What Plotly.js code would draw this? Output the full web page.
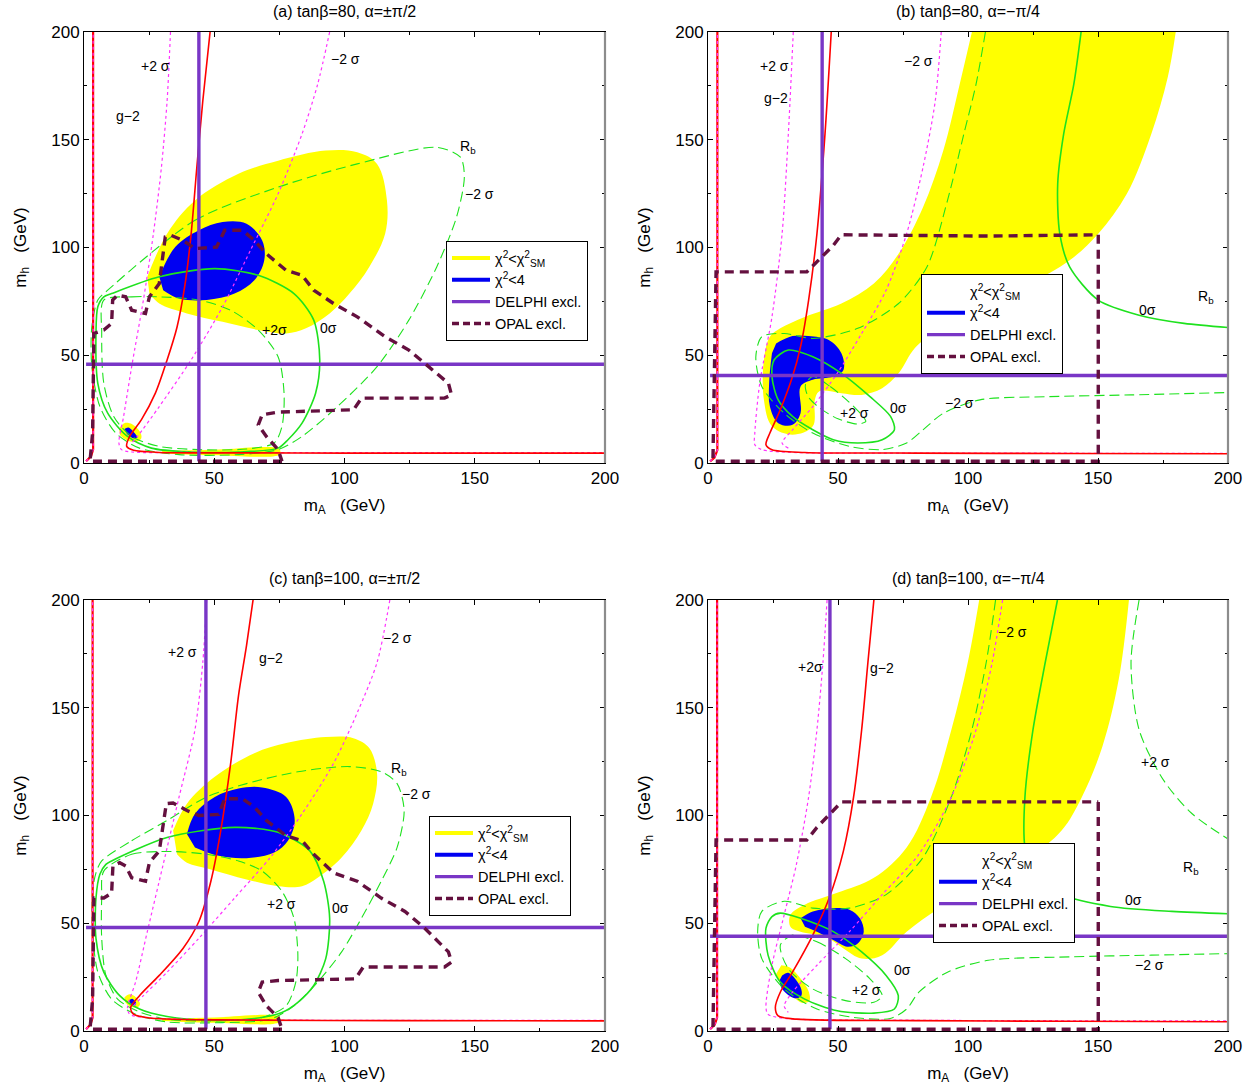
<!DOCTYPE html>
<html>
<head>
<meta charset="utf-8">
<script src="https://cdn.plot.ly/plotly-3.0.1.min.js"></script>
<style>html,body{margin:0;padding:0;background:#fff;}#chart{width:1260px;height:1090px;}</style>
</head>
<body>
<div id="chart"></div>
<script>
// ---------------- Panel (a): tanβ=80, α=±π/2 ----------------
const A_yellow_x = [24.3, 31.9, 42.6, 59.3, 74.5, 92.8, 104.9, 112.5, 116.3, 115.6, 109.5, 101.9, 94.3, 85.2, 77.6, 66.9, 53.2, 39.5, 28.9, 25.1];
const A_yellow_y = [86.4, 106.4, 121.8, 134.2, 140.3, 145, 144.2, 138.8, 121.8, 106.4, 91, 78.6, 69.4, 62.5, 60.1, 61.7, 65.5, 69.4, 74, 78.6];
const A_ysmall_x = [13.5, 15.5, 18.5, 21.5, 22, 20, 16.5, 13.8];
const A_ysmall_y = [16, 18.5, 18, 14.5, 11.5, 9.8, 10.5, 13];
const A_ystrip_x = [30, 50, 75, 75, 50, 30];
const A_ystrip_y = [5.6, 6.2, 6.5, 4, 3.6, 4.4];
const A_blue_x = [28.9, 35, 44.1, 53.2, 62.4, 68.4, 69.2, 65.4, 57.8, 47.1, 36.5, 30.4];
const A_blue_y = [86.4, 100.2, 108, 111.8, 111, 103.3, 94.1, 84.8, 78.6, 75.6, 76.3, 80.2];
const A_bsmall_x = [15.5, 17, 19.5, 20.5, 19, 16.5];
const A_bsmall_y = [15.8, 16.5, 13.8, 11.8, 11.5, 13.5];
const A_g2_x = [48.4, 45.6, 43.3, 41.1, 38.8, 35.7, 31.9, 27.4, 22, 17.5, 16.4, 19, 28.9, 60, 100, 150, 200];
const A_g2_y = [200, 168, 137, 106, 83, 63, 47.8, 32.4, 20, 12.3, 7.7, 5.9, 4.9, 4.7, 4.6, 4.6, 4.6];
const A_wall_x = [0.8, 2.7, 3.5, 3.5];
const A_wall_y = [0.8, 3.1, 6.2, 200];
const A_p2_x = [33.2, 31.9, 29.7, 26.6, 22.8, 18.3, 15.2, 13.4, 14.4, 18.3, 40, 100, 200];
const A_p2_y = [200, 168, 137, 106, 75.6, 44.7, 21.6, 9.3, 6.2, 5.1, 4.9, 4.8, 4.8];
const A_m2_x = [94.3, 89.7, 83.7, 74.5, 63.9, 53.2, 41.1, 28.9, 20.5, 18.3];
const A_m2_y = [200, 175.8, 152.7, 124.9, 98.7, 72.5, 47.8, 26.2, 12.3, 9.3];
const A_rb0_x = [10.6, 28.9, 50.2, 66.9, 80.6, 88.2, 90.5, 88.9, 83.7, 78.3, 74.5, 59.3, 41, 25.9, 16.7, 9.1, 5.3, 4.6, 5.3, 7.6, 10.6];
const A_rb0_y = [78.6, 86.4, 90.2, 87.1, 78.6, 66.3, 47.8, 32.4, 18.5, 10.8, 6.9, 5.1, 5.1, 6.9, 12.3, 23.1, 37, 60.1, 72.5, 77.1, 78.6];
const A_rbp2_x = [7.6, 18.3, 28.9, 44.1, 56.3, 66.9, 74.5, 76.8, 76, 73, 62.4, 44.1, 28.9, 18.3, 11.4, 7.6, 6.8, 7.6];
const A_rbp2_y = [75.6, 77.1, 77.1, 75.6, 70.9, 61.7, 49.3, 32.4, 17, 9.3, 6.5, 6.2, 7.7, 12.3, 21.6, 37, 60.1, 75.6];
const A_rbm2_x = [9.1, 42.6, 74.5, 104.9, 135.4, 144.5, 146, 143, 135.4, 124.7, 112.5, 97.3, 83.7, 74.5, 59.3, 36.5, 21.3, 12.2, 6.1, 3, 3, 5.3, 9.1];
const A_rbm2_y = [80.2, 112.6, 128, 138.8, 146.5, 141.9, 132.6, 114.1, 91, 66.3, 44.7, 26.2, 12.3, 6.2, 3.9, 3.9, 6.9, 13.9, 26.2, 44.7, 63.2, 75.6, 80.2];
const A_opal_x = [76, 2.3, 3.3, 3.8, 7.6, 10.6, 11, 12.9, 16, 18.3, 23.6, 25.1, 28.9, 31.2, 33.5, 38, 42.6, 50.9, 54, 60.8, 65.4, 70, 77.6, 83.7, 88.2, 95.8, 104.9, 115.6, 124.7, 132.3, 139.9, 141.1, 138.4, 106.5, 103.5, 74.5, 68.4, 66.9, 70, 74.5, 76];
const A_opal_y = [0.8, 0.8, 13.9, 60.1, 61.7, 64.8, 75.6, 77.9, 77.1, 70.9, 69.4, 77.1, 83.3, 104.9, 105.6, 103.3, 99.5, 100.2, 108, 108, 103.3, 97.1, 89.4, 87.1, 80.2, 74, 67.8, 58.6, 52.4, 44.7, 37, 31.6, 30.1, 30.1, 24.7, 23.6, 22.4, 17.7, 12.3, 6.2, 0.8];
const A_delphi = [44.1, 45.8];
const A_lab_t = ['+2 σ', '−2 σ', 'g−2', 'R<sub>b</sub>', '−2 σ', '+2σ', '0σ'];
const A_lab_x = [27.4, 100.4, 16.7, 147.5, 152, 73, 94];
const A_lab_y = [184.2, 187.4, 161.1, 146.5, 124.9, 61.7, 62.5];

// ---------------- Panel (b): tanβ=80, α=−π/4 ----------------
const B_yellow_x = [101.5, 96.8, 90.5, 82.7, 73.3, 63.8, 51.3, 37.2, 27.8, 23.8, 21.5, 21.5, 24.6, 32.5, 40.3, 41.1, 42.7, 51.3, 59.1, 67, 73.3, 79.5, 88.9, 107.8, 123.5, 139.1, 150.1, 161.1, 170.5, 176.8, 179.9];
const B_yellow_y = [200, 175.8, 145, 118.7, 97.1, 83.3, 74, 67.8, 62.5, 58.6, 47.8, 29.3, 17, 13.1, 17, 29.3, 33.2, 32.4, 31.6, 34.7, 41.6, 53.2, 62.5, 75.6, 83.3, 94.1, 106.4, 124.9, 152.7, 178.9, 200];
const B_blue_x = [26.2, 32.5, 38.7, 46.6, 51.3, 52.1, 48.2, 40.3, 35.6, 35.6, 32.5, 27, 23.8, 23.5, 24.6];
const B_blue_y = [55.5, 58.9, 58.9, 57, 50.9, 43.2, 40.1, 38.6, 35.5, 23.1, 17.7, 18.5, 26.2, 37, 50.9];
const B_g2_x = [47.4, 45, 41.9, 38.7, 35.6, 32.5, 27.8, 23.8, 22.3, 24.6, 37.2, 80, 140, 200];
const B_g2_y = [200, 152.7, 106.4, 75.6, 54, 40.1, 24.7, 13.9, 8.5, 6.2, 4.9, 4.6, 4.4, 4.3];
const B_wall_x = [0.8, 2.5, 3.6, 3.6];
const B_wall_y = [0.8, 2.5, 6, 200];
const B_p2_x = [32.8, 30.9, 28.5, 24.6, 19.9, 18, 18, 20.7, 32.5, 100, 200];
const B_p2_y = [200, 152.7, 106.4, 67.8, 37, 13.9, 8.5, 6.2, 4.9, 4.6, 4.5];
const B_m2_x = [89.7, 87.4, 82.7, 76.4, 68.5, 59.1, 49.7, 40.3, 32.5, 28.5, 30.9];
const B_m2_y = [200, 168, 137.2, 106.4, 80.2, 60.1, 41.6, 26.2, 15.4, 9.3, 6.9];
const B_rb0a_x = [143.5, 140.7, 136.8, 134.5, 135.3, 139.1, 150.1, 165.8, 183.1, 200];
const B_rb0a_y = [200, 175.8, 152.7, 129.5, 106.4, 91, 75.6, 68.6, 64.8, 62.9];
const B_rb0b_x = [30.9, 40.3, 51.3, 62.3, 70.2, 71.7, 67, 57.6, 48.2, 40.3, 32.5, 27, 24.6, 25.4, 30.9];
const B_rb0b_y = [52.4, 49.3, 41.6, 30.8, 21.6, 15.4, 10.8, 9.3, 10.8, 15.4, 21.6, 29.3, 40.1, 47.8, 52.4];
const B_rbm2_x = [106.7, 103.1, 98.4, 92.1, 84.2, 73.3, 57.6, 40.3, 29.3, 20.7, 18.4, 20.7, 29.3, 40.3, 54.4, 67, 76.4, 82.7, 90.5, 104.6, 131.3, 162.7, 200];
const B_rbm2_y = [200, 175.8, 152.7, 121.8, 91, 74, 62.5, 57.8, 60.1, 58.6, 49.3, 35.5, 23.1, 13.9, 7.7, 6.2, 9.3, 15.4, 23.1, 29.3, 30.8, 31.6, 32.7];
const B_rbp2_x = [40.3, 47, 53.3, 58.5, 60.7, 57.6, 50, 43, 38.5, 37.5, 40.3];
const B_rbp2_y = [40.1, 35.5, 29.3, 23.1, 19.3, 18.1, 20.5, 25.5, 30.8, 36.5, 40.1];
const B_opal_x = [150.1, 150.1, 1.9, 3.1, 38, 41.9, 48.2, 51.3, 107.8, 150.1];
const B_opal_y = [105.9, 0.8, 0.8, 88.7, 88.7, 93.3, 101, 105.9, 105.3, 105.9];
const B_delphi = [43.9, 40.6];
const B_lab_t = ['+2 σ', 'g−2', '−2 σ', 'R<sub>b</sub>', '0σ', '+2 σ', '0σ', '−2 σ'];
const B_lab_x = [25.4, 26.2, 81.1, 191.7, 169, 56.3, 73.3, 96.8];
const B_lab_y = [184.3, 169.6, 186.6, 77.1, 70.9, 23.1, 25.4, 27.8];

// ---------------- Panel (c): tanβ=100, α=±π/2 ----------------
const C_yellow_x = [34.2, 39.5, 50.2, 65.4, 77.6, 92.8, 103.4, 109.5, 112.5, 111, 106.5, 98.9, 89.7, 83.7, 74.5, 62.4, 48.7, 39.5, 35.7];
const C_yellow_y = [93, 105.5, 118, 128.9, 133.6, 136.4, 135.9, 131.3, 119.5, 105.5, 93, 80.5, 71.1, 67.2, 67.2, 70.3, 75, 78.1, 82];
const C_ysmall_x = [15.5, 17.5, 20, 21.5, 20.5, 17.5, 15.8];
const C_ysmall_y = [15.5, 17, 15.5, 12.5, 11, 11.5, 13.5];
const C_ystrip_x = [30, 50, 75, 75, 50, 30];
const C_ystrip_y = [5.8, 6.3, 6.6, 4.2, 3.8, 4.6];
const C_blue_x = [39.5, 42.6, 50.2, 59.3, 68.4, 77.6, 80.9, 78.3, 73, 62.4, 51.7, 42.6];
const C_blue_y = [91.4, 100.8, 108.6, 112.5, 113, 108.6, 97.7, 88.3, 82.8, 80.2, 81.3, 85.2];
const C_bsmall_x = [17.2, 18.5, 20, 19.5, 18];
const C_bsmall_y = [14.2, 15, 13, 11.8, 12.2];
const C_g2_x = [64.9, 62.4, 59.3, 56.3, 52.5, 48.7, 44.1, 38, 28.9, 21.3, 17.9, 19, 25.9, 60, 120, 200];
const C_g2_y = [200, 178.9, 155.5, 124.2, 93, 69.5, 50.8, 38.3, 25.8, 16.4, 10.9, 7.8, 5.9, 5.1, 4.8, 4.7];
const C_wall_x = [0.8, 2.5, 3.3, 3.3];
const C_wall_y = [0.8, 3, 6.2, 200];
const C_p2_x = [47.1, 45.6, 42.6, 36.5, 30.4, 24.3, 19.8, 16.7, 17.5, 22.8, 60, 200];
const C_p2_y = [200, 171, 139.8, 108.6, 77.3, 46.1, 22.7, 10.9, 7.8, 6.3, 5.2, 5];
const C_m2_x = [117.4, 112.5, 104.9, 95.8, 83.7, 71.5, 57.8, 44.1, 31.9, 22.8, 19];
const C_m2_y = [200, 171, 147.7, 124.2, 100.8, 80.5, 61.7, 43, 27.3, 16.4, 11.7];
const C_rb0_x = [10.6, 31.9, 57.8, 74.5, 86.7, 92, 94.3, 92.8, 88.2, 82.1, 76, 65.4, 47.1, 31.9, 21.3, 13.7, 7.6, 4.6, 4.6, 6.1, 8.4, 10.6];
const C_rb0_y = [78.9, 89.8, 94.5, 92.2, 83.6, 69.5, 52.3, 33.6, 21.1, 13.3, 8.6, 5.8, 5, 6.7, 10.2, 16.4, 27.3, 43, 61.7, 72.7, 77.3, 78.9];
const C_rbp2_x = [7.6, 18.3, 33.5, 47.1, 59.3, 68.4, 76, 80.6, 82.1, 81.3, 77.6, 68.4, 50.2, 31.9, 21.3, 12.9, 8.4, 6.8, 6.8, 7.6];
const C_rbp2_y = [74.2, 82, 83.3, 82, 78.9, 74.2, 64.8, 52.3, 35.2, 22.7, 11.7, 6.3, 4.7, 5.5, 8.9, 14.8, 25.8, 43, 61.7, 74.2];
const C_rbm2_x = [6.8, 18.3, 31.9, 47.1, 62.4, 82.1, 101.9, 114.1, 120.2, 122.9, 120.2, 114.1, 106.5, 98.9, 89.7, 80.6, 71.5, 53.2, 31.9, 19.8, 10.6, 5.3, 3.3, 3.3, 4.6, 6.8];
const C_rbm2_y = [78.9, 88.3, 97.7, 108.6, 114.8, 120.3, 122.7, 120.3, 114.8, 102.3, 85.2, 69.5, 52.3, 36.7, 22.7, 11.7, 5.5, 3.9, 4.2, 7.8, 14.8, 27.3, 46.1, 64.8, 73.4, 78.9];
const C_opal_x = [76, 2.3, 3.3, 3.8, 7.6, 10.6, 11.1, 13.7, 16, 18.3, 23.6, 25.1, 28.9, 31.6, 34.2, 39.5, 44.1, 51.7, 54, 60.8, 65.4, 70, 77.6, 83.7, 88.2, 95.8, 104.9, 114.1, 123.2, 130.8, 139.9, 141.1, 138.4, 107.2, 104.2, 74.5, 68.4, 66.9, 70, 74.5, 76];
const C_opal_y = [0.8, 0.8, 14.8, 61.7, 61.7, 64, 76.6, 78.1, 76.6, 71.1, 69.5, 78.1, 83.6, 105.5, 105.8, 102.3, 100, 100.5, 107.8, 107.8, 103.9, 97.7, 90.6, 88.3, 82, 73.4, 69.5, 61.7, 55.5, 47.7, 36.7, 32, 29.7, 29.7, 24.2, 23.4, 22.7, 18, 11.7, 6.3, 0.8];
const C_delphi = [46.8, 48];
const C_lab_t = ['+2 σ', 'g−2', '−2 σ', 'R<sub>b</sub>', '−2 σ', '+2 σ', '0σ'];
const C_lab_x = [38, 71.9, 120.2, 120.9, 127.8, 75.7, 98.6];
const C_lab_y = [176.1, 173, 182.3, 121.4, 110.2, 58.9, 57];

// ---------------- Panel (d): tanβ=100, α=−π/4 ----------------
const D_yellow_x = [104.3, 99.9, 93.6, 85.8, 76.4, 63.8, 49.7, 37.2, 31.7, 31.7, 35.6, 45, 52.1, 59.1, 67, 76.4, 88.9, 104.6, 123.5, 136, 143.8, 151.7, 158, 161.9];
const D_yellow_y = [200, 171, 139.8, 108.6, 85.2, 71.1, 64.1, 58.6, 53.9, 48.4, 46.1, 43.8, 38.3, 33.6, 35.2, 46.1, 57, 68, 80.5, 93, 108.6, 132, 163.3, 200];
const D_ysmall_x = [28.2, 31.5, 35.5, 38.7, 39, 36.5, 32.5, 28.5, 26.2];
const D_ysmall_y = [30.5, 29.5, 24.5, 18.5, 14, 13, 16, 21, 26.5];
const D_blue_x = [35.6, 40.3, 48.2, 54.4, 58.4, 59.9, 57.6, 53.6, 48.2, 41.9, 37.3];
const D_blue_y = [52.3, 55.5, 57, 56.3, 52.3, 46.1, 40.6, 39.1, 42.2, 46.1, 48.4];
const D_bsmall_x = [28.5, 30.9, 35.6, 35.9, 33.3, 28.5, 27.5];
const D_bsmall_y = [25.8, 27, 20.3, 16.4, 15.2, 19.5, 23.4];
const D_g2_x = [63.8, 61.5, 59.1, 56, 52.1, 46.6, 40.3, 32.5, 27.8, 25.9, 27, 34, 80, 140, 200];
const D_g2_y = [200, 171, 139.8, 108.6, 83.6, 61.7, 44.5, 27.3, 18, 10.9, 7, 5.5, 4.8, 4.5, 4.3];
const D_wall_x = [0.8, 2.6, 3.5, 3.5];
const D_wall_y = [0.8, 3, 6.2, 200];
const D_p2_x = [45.8, 44.2, 41.9, 38.7, 34, 29.3, 24.6, 22.3, 23, 29.3, 80, 200];
const D_p2_y = [200, 171, 139.8, 108.6, 77.3, 53.9, 30.5, 11.7, 7.8, 5.9, 5, 4.7];
const D_m2_x = [113.3, 109.3, 103.1, 93.6, 81.1, 67, 54.4, 41.9, 32.5, 29.3, 30.9];
const D_m2_y = [200, 171, 139.8, 108.6, 82, 63.3, 46.1, 30.5, 18, 11.7, 8.6];
const D_rb0a_x = [134.4, 129.7, 125, 121.9, 121.9, 125, 136, 154.8, 178.4, 200];
const D_rb0a_y = [200, 171, 139.8, 108.6, 85.2, 72.7, 63.3, 57.8, 55.5, 54.4];
const D_rb0b_x = [27.8, 35.6, 48.2, 59.1, 68.5, 73.2, 71.7, 63.8, 49.7, 37.2, 27.8, 23.1, 22.3, 24.6, 27.8];
const D_rb0b_y = [54.7, 52.3, 46.1, 36.7, 25.8, 16.4, 10.2, 8.3, 9.4, 14.8, 22.7, 35.2, 47.7, 53.1, 54.7];
const D_rbp2a_x = [165.8, 162.7, 165.8, 175.2, 186.2, 200];
const D_rbp2a_y = [200, 171, 139.8, 116.4, 100.8, 89.1];
const D_rbp2b_x = [32.5, 41.9, 52.9, 62.3, 67, 63.8, 52.9, 40.3, 30.9, 27.8, 32.5];
const D_rbp2b_y = [44.5, 41.4, 33.6, 24.2, 16.4, 13.3, 14.1, 19.5, 28.9, 39.8, 44.5];
const D_rbm2_x = [110.6, 107, 101.5, 93.6, 82.7, 68.5, 54.4, 40.3, 29.3, 20.7, 19.1, 20.7, 29.3, 41.9, 56, 70.1, 76.4, 81.1, 92.1, 107.8, 139.1, 170.5, 200];
const D_rbm2_y = [200, 171, 139.8, 108.6, 80.5, 63.3, 57, 57, 60.2, 55.5, 46.1, 33.6, 19.5, 10.2, 6.3, 5.8, 10.2, 18, 27.3, 32.8, 34.4, 35.2, 35.9];
const D_opal_x = [150.1, 150.1, 1.9, 3.1, 38, 41.9, 48.2, 51.3, 150.1];
const D_opal_y = [106.3, 0.8, 0.8, 88.6, 88.6, 94.5, 102.3, 106.3, 106.3];
const D_delphi = [46.9, 44];
const D_lab_t = ['+2σ', 'g−2', '−2 σ', '+2 σ', 'R<sub>b</sub>', '0σ', '−2 σ', '0σ', '+2 σ'];
const D_lab_x = [39.5, 67, 117.2, 172.1, 185.9, 163.5, 169.7, 74.8, 61];
const D_lab_y = [168.8, 168.3, 185.2, 125, 75.5, 60.9, 30.5, 28.1, 19.2];

const TITLES = ['(a) tanβ=80, α=±π/2', '(b) tanβ=80, α=−π/4', '(c) tanβ=100, α=±π/2', '(d) tanβ=100, α=−π/4'];
const LEG_NAMES = ['χ<sup>2</sup>&lt;χ<sup>2</sup><sub>SM</sub>', 'χ<sup>2</sup>&lt;4', 'DELPHI excl.', 'OPAL excl.'];

// ---------------- styles ----------------
const FONT = 'Liberation Sans, Arial, Helvetica, sans-serif';
const YEL = '#ffff00', BLU = '#0000f2', RED = '#ff0000', MAG = '#ff33ff', GRN = '#1ee21e', PUR = '#7936c6', OPL = '#64103f';

const panels = [
  {ax: '', leg: 'legend', yellowLeg: true,
   yellow: [[A_yellow_x, A_yellow_y], [A_ysmall_x, A_ysmall_y], [A_ystrip_x, A_ystrip_y]],
   blue: [[A_blue_x, A_blue_y], [A_bsmall_x, A_bsmall_y]],
   rbSolid: [[A_rb0_x, A_rb0_y]], rbDash: [[A_rbp2_x, A_rbp2_y], [A_rbm2_x, A_rbm2_y]],
   mag: [[A_p2_x, A_p2_y], [A_m2_x, A_m2_y]], g2: [A_g2_x, A_g2_y], wall: [A_wall_x, A_wall_y],
   opal: [A_opal_x, A_opal_y], delphi: A_delphi, lab: [A_lab_t, A_lab_x, A_lab_y]},
  {ax: '2', leg: 'legend2', yellowLeg: false,
   yellow: [[B_yellow_x, B_yellow_y]],
   blue: [[B_blue_x, B_blue_y]],
   rbSolid: [[B_rb0a_x, B_rb0a_y], [B_rb0b_x, B_rb0b_y]], rbDash: [[B_rbm2_x, B_rbm2_y], [B_rbp2_x, B_rbp2_y]],
   mag: [[B_p2_x, B_p2_y], [B_m2_x, B_m2_y]], g2: [B_g2_x, B_g2_y], wall: [B_wall_x, B_wall_y],
   opal: [B_opal_x, B_opal_y], delphi: B_delphi, lab: [B_lab_t, B_lab_x, B_lab_y]},
  {ax: '3', leg: 'legend3', yellowLeg: true,
   yellow: [[C_yellow_x, C_yellow_y], [C_ysmall_x, C_ysmall_y], [C_ystrip_x, C_ystrip_y]],
   blue: [[C_blue_x, C_blue_y], [C_bsmall_x, C_bsmall_y]],
   rbSolid: [[C_rb0_x, C_rb0_y]], rbDash: [[C_rbp2_x, C_rbp2_y], [C_rbm2_x, C_rbm2_y]],
   mag: [[C_p2_x, C_p2_y], [C_m2_x, C_m2_y]], g2: [C_g2_x, C_g2_y], wall: [C_wall_x, C_wall_y],
   opal: [C_opal_x, C_opal_y], delphi: C_delphi, lab: [C_lab_t, C_lab_x, C_lab_y]},
  {ax: '4', leg: 'legend4', yellowLeg: false,
   yellow: [[D_yellow_x, D_yellow_y], [D_ysmall_x, D_ysmall_y]],
   blue: [[D_blue_x, D_blue_y], [D_bsmall_x, D_bsmall_y]],
   rbSolid: [[D_rb0a_x, D_rb0a_y], [D_rb0b_x, D_rb0b_y]], rbDash: [[D_rbp2a_x, D_rbp2a_y], [D_rbp2b_x, D_rbp2b_y], [D_rbm2_x, D_rbm2_y]],
   mag: [[D_p2_x, D_p2_y], [D_m2_x, D_m2_y]], g2: [D_g2_x, D_g2_y], wall: [D_wall_x, D_wall_y],
   opal: [D_opal_x, D_opal_y], delphi: D_delphi, lab: [D_lab_t, D_lab_x, D_lab_y]}
];

// pixel boxes of the four plot areas (figure is 1260 x 1090)
const W = 1260, H = 1090;
const boxes = [
  {x0: 84, x1: 605, y0: 32, y1: 463},
  {x0: 708, x1: 1228, y0: 32, y1: 463},
  {x0: 84, x1: 605, y0: 600, y1: 1031},
  {x0: 708, x1: 1228, y0: 600, y1: 1031}
];
const legPos = [[446, 241], [921, 274], [429, 816], [933, 843]];

const traces = [];
const annotations = [];
const shapes = [];
const layout = {
  width: W, height: H, margin: {l: 0, r: 0, t: 0, b: 0},
  paper_bgcolor: '#fff', plot_bgcolor: '#fff',
  font: {family: FONT, color: '#000', size: 14},
  showlegend: true
};

function fill(ax, xs, ys, color) {
  return {type: 'scatter', mode: 'lines', x: xs, y: ys, fill: 'toself', fillcolor: color,
    line: {width: 0, color: color, shape: 'spline', smoothing: 1}, xaxis: 'x' + ax, yaxis: 'y' + ax,
    showlegend: false, hoverinfo: 'skip'};
}
function line(ax, xs, ys, color, width, dash, shape) {
  return {type: 'scatter', mode: 'lines', x: xs, y: ys,
    line: {width: width, color: color, dash: dash || 'solid', shape: shape || 'linear', smoothing: 0.8},
    xaxis: 'x' + ax, yaxis: 'y' + ax, showlegend: false, hoverinfo: 'skip'};
}

panels.forEach((p, i) => {
  const ax = p.ax, b = boxes[i];
  p.yellow.forEach(c => traces.push(fill(ax, c[0], c[1], YEL)));
  p.blue.forEach(c => traces.push(fill(ax, c[0], c[1], BLU)));
  p.rbDash.forEach(c => traces.push(line(ax, c[0], c[1], GRN, 1.1, '10px,5px', 'spline')));
  p.rbSolid.forEach(c => traces.push(line(ax, c[0], c[1], GRN, 1.6, 'solid', 'spline')));
  p.mag.forEach(c => traces.push(line(ax, c[0], c[1], MAG, 1.2, 'dot', 'spline')));
  traces.push(line(ax, p.g2[0], p.g2[1], RED, 1.6, 'solid', 'spline'));
  traces.push(line(ax, p.wall[0], p.wall[1], RED, 2.2, 'solid', 'linear'));
  traces.push(line(ax, p.wall[0], p.wall[1], MAG, 1.2, 'dot', 'linear'));
  // DELPHI exclusion lines
  traces.push(line(ax, [p.delphi[0], p.delphi[0]], [0.8, 200], PUR, 3.4, 'solid'));
  traces.push(line(ax, [0.8, 200], [p.delphi[1], p.delphi[1]], PUR, 3.4, 'solid'));
  // OPAL exclusion
  traces.push(line(ax, p.opal[0], p.opal[1], OPL, 3.4, '9px,6px', 'linear'));
  // labels
  const lt = p.lab[0], lx = p.lab[1], ly = p.lab[2];
  lt.forEach((t, k) => annotations.push({text: t, x: lx[k], y: ly[k], xref: 'x' + ax, yref: 'y' + ax,
    showarrow: false, font: {family: FONT, size: 14, color: '#000'}}));

  // legend entries
  const legStyles = [
    {color: p.yellowLeg ? YEL : 'rgba(0,0,0,0)', width: 4, dash: 'solid'},
    {color: BLU, width: 4, dash: 'solid'},
    {color: PUR, width: 3.4, dash: 'solid'},
    {color: OPL, width: 3.4, dash: '7px,4px'}
  ];
  LEG_NAMES.forEach((n, k) => traces.push({type: 'scatter', mode: 'lines', x: [null], y: [null], name: n,
    line: legStyles[k], xaxis: 'x' + ax, yaxis: 'y' + ax, legend: p.leg, showlegend: true, hoverinfo: 'skip'}));

  layout[p.leg] = {x: legPos[i][0] / W, y: 1 - legPos[i][1] / H, xanchor: 'left', yanchor: 'top',
    bgcolor: '#fff', bordercolor: '#000', borderwidth: 1, itemwidth: 38, tracegroupgap: 0,
    font: {family: FONT, size: 14.5, color: '#000'}, traceorder: 'normal'};

  const xname = 'xaxis' + ax, yname = 'yaxis' + ax;
  const common = {range: [0, 200], dtick: 50, tick0: 0, ticks: 'inside', ticklen: 5, tickwidth: 1, tickcolor: '#000',
    minor: {dtick: 25, ticks: 'inside', ticklen: 3, tickcolor: '#000'},
    showline: true, linecolor: '#000', linewidth: 1, mirror: 'allticks', showgrid: false, zeroline: false,
    tickfont: {family: FONT, size: 17, color: '#000'}, fixedrange: true};
  layout[xname] = Object.assign({}, common, {domain: [b.x0 / W, b.x1 / W], anchor: 'y' + ax,
    title: {text: 'm<sub>A</sub>   (GeV)', font: {family: FONT, size: 17}, standoff: 11}});
  layout[yname] = Object.assign({}, common, {domain: [1 - b.y1 / H, 1 - b.y0 / H], anchor: 'x' + ax,
    title: {text: 'm<sub>h</sub>   (GeV)', font: {family: FONT, size: 17}, standoff: 20}});

  // title of panel
  annotations.push({text: TITLES[i], x: (b.x0 + b.x1) / 2 / W, y: 1 - (b.y0 - 21) / H, xref: 'paper', yref: 'paper',
    xanchor: 'center', yanchor: 'middle', showarrow: false, font: {family: FONT, size: 16, color: '#000'}});
  // grey right frame edge
  shapes.push({type: 'line', xref: 'x' + ax + ' domain', yref: 'y' + ax + ' domain', x0: 1, x1: 1, y0: 0, y1: 1,
    line: {color: '#8c8c8c', width: 2.2}});
});

layout.annotations = annotations;
layout.shapes = shapes;

Plotly.newPlot('chart', traces, layout, {displayModeBar: false, staticPlot: true});
</script>
</body>
</html>
